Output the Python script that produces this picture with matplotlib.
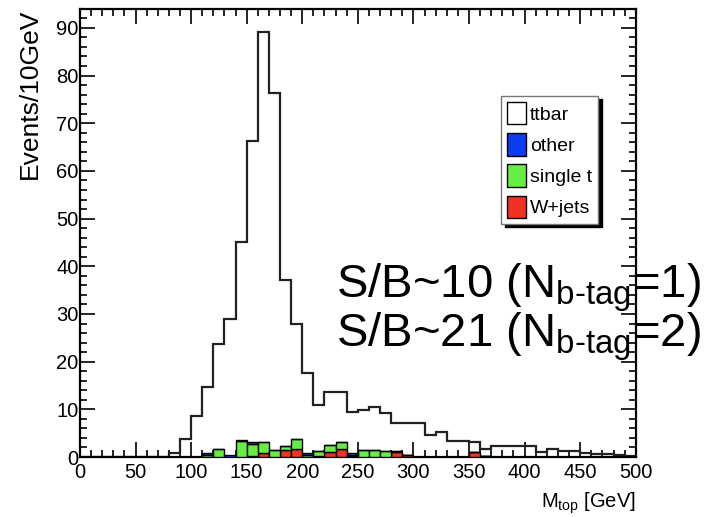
import numpy as np
import matplotlib
matplotlib.use("Agg")
import matplotlib.pyplot as plt
from matplotlib.ticker import MultipleLocator
from matplotlib.patches import Patch

# 10 GeV bins from 0 to 500
edges = np.arange(0, 510, 10)

# stacked total (ttbar outline)
ttbar = [0, 0, 0, 0, 0, 0, 0, 0, 0.8, 3.7,
         8.6, 14.7, 23.8, 29.0, 45.0, 66.2, 89.2, 76.4, 37.2, 27.8,
         17.6, 11.0, 13.6, 13.6, 9.5, 9.8, 10.5, 9.2, 7.2, 7.2,
         7.2, 4.6, 5.3, 3.4, 3.4, 3.2, 1.7, 2.3, 2.3, 2.3,
         2.3, 1.1, 1.6, 1.2, 1.2, 0.8, 0.6, 0.6, 0.4, 0.3]

wjets = [0] * 50
for i, v in {15: 0.2, 16: 0.9, 18: 1.5, 19: 1.6, 21: 0.3, 22: 1.1, 23: 1.6,
             24: 0.3, 28: 1.0, 29: 0.4, 35: 1.1, 36: 0.2}.items():
    wjets[i] = v

single_t = [0] * 50
for i, v in {11: 0.5, 12: 1.6, 14: 3.3, 15: 2.5, 16: 2.3, 17: 1.5, 18: 0.8,
             19: 2.1, 20: 0.5, 21: 0.9, 22: 1.4, 23: 1.5, 24: 0.2, 25: 1.5,
             26: 1.5, 27: 1.3, 28: 0.2}.items():
    single_t[i] = v

other = [0] * 50
for i, v in {11: 0.3, 13: 0.5, 14: 0.3, 15: 0.5, 20: 0.3, 24: 0.3}.items():
    other[i] = v

c_blue = '#0a3cf0'
c_green = '#66ee44'
c_red = '#ee3322'

font = ['Liberation Sans', 'DejaVu Sans']
plt.rcParams['mathtext.fontset'] = 'custom'
plt.rcParams['mathtext.rm'] = 'Liberation Sans'

fig = plt.figure(figsize=(7.2, 5.17), dpi=100)
ax = fig.add_axes([0.111, 0.116, 0.772, 0.867])

# ttbar outline drawn first, background stack on top of it
ax.stairs(ttbar, edges, color='#222222', linewidth=1.6, baseline=0, zorder=2)

left = edges[:-1]
w = np.array(wjets)
s = np.array(single_t)
o = np.array(other)
ax.bar(left, w, width=10, align='edge', color=c_red, edgecolor='black', linewidth=1.0, zorder=3)
ax.bar(left, s, width=10, bottom=w, align='edge', color=c_green, edgecolor='black', linewidth=1.0, zorder=3)
ax.bar(left, o, width=10, bottom=w + s, align='edge', color=c_blue, edgecolor='black', linewidth=1.0, zorder=3)

ax.set_xlim(0, 500)
ax.set_ylim(0, 94)

ax.xaxis.set_major_locator(MultipleLocator(50))
ax.xaxis.set_minor_locator(MultipleLocator(10))
ax.yaxis.set_major_locator(MultipleLocator(10))
ax.yaxis.set_minor_locator(MultipleLocator(2))
ax.tick_params(which='both', direction='in', top=True, right=True, width=1.2)
ax.tick_params(which='major', length=11)
ax.tick_params(which='minor', length=5)
ax.tick_params(axis='y', pad=1)
ax.tick_params(axis='x', pad=4)
for lab in ax.get_xticklabels() + ax.get_yticklabels():
    lab.set_family(font)
    lab.set_fontsize(14.5)
for sp in ax.spines.values():
    sp.set_linewidth(1.6)

ax.set_ylabel('Events/10GeV', family=font, fontsize=19)
ax.yaxis.set_label_coords(-0.068, 1.0)
ax.yaxis.label.set_horizontalalignment('right')
ax.set_xlabel(r'M$_{\rm top}$ [GeV]', family=font, fontsize=14.5)
ax.xaxis.set_label_coords(1.0, -0.075)
ax.xaxis.label.set_horizontalalignment('right')

handles = [Patch(facecolor='white', edgecolor='black', label='ttbar'),
           Patch(facecolor=c_blue, edgecolor='black', label='other'),
           Patch(facecolor=c_green, edgecolor='black', label='single t'),
           Patch(facecolor=c_red, edgecolor='black', label='W+jets')]
leg = ax.legend(handles=handles, loc='upper left', bbox_to_anchor=(0.757, 0.805),
                prop={'family': font, 'size': 14}, fancybox=False,
                shadow={'ox': 3, 'oy': -2, 'color': 'black', 'alpha': 1.0},
                edgecolor='#777777', handlelength=1.0, handleheight=1.4,
                handletextpad=0.2, borderpad=0.3, labelspacing=0.45, borderaxespad=0)
leg.get_frame().set_linewidth(1.0)

fig.text(0.467, 0.4255, r'S/B~10 (N$_{\rm b\text{-}tag}$=1)', fontsize=34,
         family='Liberation Sans', zorder=10)
fig.text(0.467, 0.329, r'S/B~21 (N$_{\rm b\text{-}tag}$=2)', fontsize=34,
         family='Liberation Sans', zorder=10)

fig.savefig('out.png', dpi=100)
